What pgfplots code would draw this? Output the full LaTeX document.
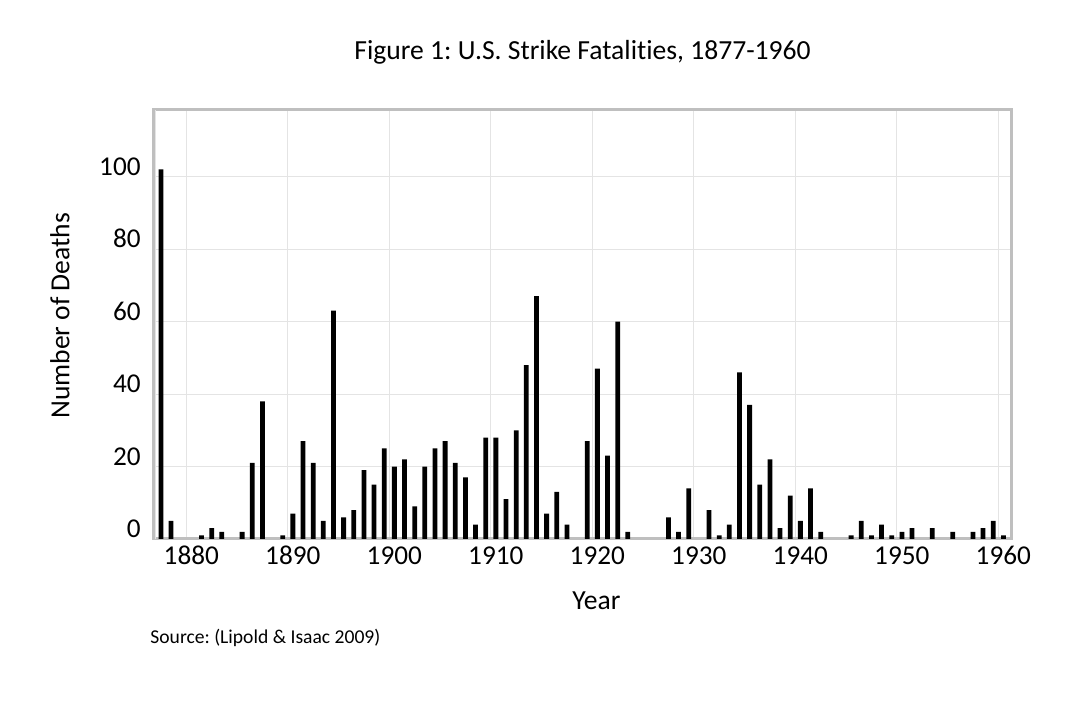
\documentclass[border=0pt]{standalone}
\usepackage{fontspec}
\setmainfont{Carlito}[Ligatures=NoCommon]
\usepackage{pgfplots}
\usepackage{pgfplotstable}
\pgfplotsset{compat=1.18}
\frenchspacing
\definecolor{framegrey}{HTML}{BFBFBF}
\definecolor{gridgrey}{HTML}{E4E4E4}
\pgfplotstableread{
year deaths
1877 102
1878 5
1881 1
1882 3
1883 2
1885 2
1886 21
1887 38
1889 1
1890 7
1891 27
1892 21
1893 5
1894 63
1895 6
1896 8
1897 19
1898 15
1899 25
1900 20
1901 22
1902 9
1903 20
1904 25
1905 27
1906 21
1907 17
1908 4
1909 28
1910 28
1911 11
1912 30
1913 48
1914 67
1915 7
1916 13
1917 4
1919 27
1920 47
1921 23
1922 60
1923 2
1927 6
1928 2
1929 14
1931 8
1932 1
1933 4
1934 46
1935 37
1936 15
1937 22
1938 3
1939 12
1940 5
1941 14
1942 2
1945 1
1946 5
1947 1
1948 4
1949 1
1950 2
1951 3
1953 3
1955 2
1957 2
1958 3
1959 5
1960 1
}\strikedata
\begin{document}
\frenchspacing
\begin{tikzpicture}
\useasboundingbox (0,0) rectangle (540.5bp,352.5bp);
\begin{axis}[
  at={(76.5bp,83bp)}, anchor=south west,
  scale only axis,
  width=429bp, height=214.5bp,
  xmin=1876.72, xmax=1961.25,
  ymin=0, ymax=118.4,
  xtick={1880,1890,...,1960},
  ytick={0,20,...,100},
  grid=major,
  major grid style={line width=0.5bp, gridgrey},
  major tick length=0pt,
  axis line style={line width=1.5bp, framegrey},
  /pgf/number format/assume math mode=true,
  /pgf/number format/1000 sep={},
  tick label style={font=\fontsize{13.6bp}{16bp}\selectfont, inner sep=0pt},
  xticklabel style={anchor=base, yshift=-13bp, xshift=2.5bp},
  yticklabel style={anchor=base east, xshift=-6bp, yshift=0.65bp},
  extra x ticks={1877},
  extra x tick labels={},
  extra x tick style={grid style={black, line width=0.6bp}},
]
\addplot[ybar, fill=black, draw=none, bar width=0.47]
  table[x expr=\thisrow{year}+0.5, y=deaths] {\strikedata};
\end{axis}
\node[anchor=base, font=\fontsize{13.8bp}{16bp}\selectfont] at (291.3bp,322.5bp) {Figure 1: U.S. Strike Fatalities, 1877-1960};
\node[anchor=base, font=\fontsize{13.8bp}{16bp}\selectfont] at (298.2bp,47.85bp) {Year};
\node[anchor=base, rotate=90, font=\fontsize{13.8bp}{16bp}\selectfont] at (34.65bp,194.6bp) {Number of Deaths};
\node[anchor=base west, inner sep=0pt, font=\fontsize{9.8bp}{12bp}\selectfont] at (75bp,31bp) {Source: (Lipold \& Isaac 2009)};
\end{tikzpicture}
\end{document}
